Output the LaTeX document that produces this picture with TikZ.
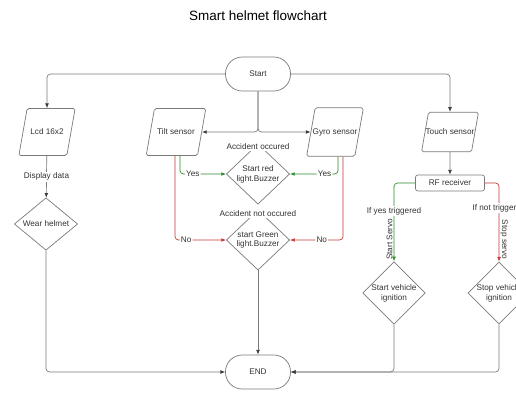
\documentclass[tikz,border=0pt]{standalone}
\usepackage{fontspec}
\setmainfont{Liberation Sans}
\usepackage{xcolor}
\usetikzlibrary{arrows.meta,shapes.geometric}

\definecolor{linegray}{HTML}{7A7A7A}
\definecolor{tipgray}{HTML}{3A3A3A}
\definecolor{yesgreen}{HTML}{2E8B2E}
\definecolor{nored}{HTML}{C43A32}
\definecolor{txtgray}{HTML}{333333}

% fixed text width inside the input boxes
\newcommand{\iotxt}[2][1.15cm]{\makebox[#1]{#2}}

\tikzset{
  base/.style={draw=linegray, line width=0.6pt, text=txtgray, align=center,
    font=\fontsize{7}{8.4}\selectfont, inner sep=1pt},
  term/.style={base, rectangle, rounded corners=0.5cm, minimum width=1.95cm, minimum height=1.02cm},
  io/.style={base, trapezium, trapezium left angle=80, trapezium right angle=100,
    rounded corners=1.5pt, inner xsep=1pt, inner ysep=17.5pt},
  decision/.style={base, diamond, inner sep=0pt, minimum width=1.9cm, minimum height=1.44cm},
  proc/.style={base, rectangle, rounded corners=2pt, minimum width=2.07cm, minimum height=0.48cm},
  conn/.style={draw=linegray, line width=0.6pt, rounded corners=3pt,
    -{Latex[length=4pt,width=3.2pt,color=tipgray]}},
  yesline/.style={conn, draw=yesgreen, -{Latex[length=4pt,width=3.2pt]}},
  noline/.style={conn, draw=nored, -{Latex[length=4pt,width=3.2pt]}},
  lbl/.style={fill=white, text=txtgray, font=\fontsize{7}{8.4}\selectfont, inner sep=1pt}
}

\begin{document}
\begin{tikzpicture}[x=0.03cm, y=-0.03cm]
  \useasboundingbox (0,0) rectangle (516,392);

  % title
  \node[font=\fontsize{11.5}{13}\selectfont] (title) at (258,16) {Smart helmet flowchart};

  % nodes
  \node[term] (start) at (258,74) {Start};
  \node[io] (lcd) at (47,132) {\iotxt[1.12cm]{Lcd 16x2}};
  \node[io] (tilt) at (176,132) {\iotxt[1.22cm]{Tilt sensor}};
  \node[io] (gyro) at (335,132) {\iotxt[1.12cm]{Gyro sensor}};
  \node[io, inner ysep=14.3pt] (touch) at (450,132) {\iotxt[1.22cm]{Touch sensor}};
  \node[decision] (wear) at (46,224) {Wear helmet};
  \node[decision] (redlight) at (258,174) {Start red\\light.Buzzer};
  \node[decision] (greenlight) at (258,240) {start Green\\light.Buzzer};
  \node[proc] (rf) at (450,183) {RF receiver};
  \node[decision, minimum width=1.68cm, minimum height=1.2cm] (startign) at (394,293) {Start vehicle\\ignition};
  \node[decision, minimum width=1.68cm, minimum height=1.2cm] (stopign) at (499,293) {Stop vehicle\\ignition};
  \node[term] (end) at (258,372) {END};

  \node[lbl] (occ) at (258,147) {Accident occured};
  \node[lbl] (notocc) at (258,214) {Accident not occured};

  % connectors
  \draw[conn] (start.west) -| (lcd);
  \draw[conn] (start.east) -| (touch);
  \draw[conn] (start.south) |- (tilt.east);
  \draw[conn] (start.south) |- (gyro.west);
  \draw[conn] (lcd) -- node[lbl] {Display data} (wear);
  \draw[conn] (wear.south) |- (end.west);

  \draw[yesline] ([xshift=0.12cm]tilt.south) |- node[lbl, pos=0.64] {Yes} (redlight.west);
  \draw[noline] ([xshift=-0.03cm]tilt.south) |- node[lbl, pos=0.61] {No} (greenlight.west);
  \draw[yesline] ([xshift=0.09cm]gyro.south) |- node[lbl, pos=0.64] {Yes} (redlight.east);
  \draw[noline] ([xshift=0.24cm]gyro.south) |- node[lbl, pos=0.7] {No} (greenlight.east);
  \draw[conn] (greenlight.south) -- (end.north);

  \draw[conn] (touch) -- (rf);
  \draw[yesline] (rf.west) -| node[lbl, pos=0.68] {If yes triggered}
    node[lbl, pos=0.86, rotate=90, anchor=south, fill=none] {Start Servo} (startign.north);
  \draw[noline] (rf.east) -| node[lbl, pos=0.66] {If not triggered}
    node[lbl, pos=0.86, rotate=-90, anchor=south, fill=none] {Stop servo} (stopign.north);
  \draw[conn] (startign.south) |- (end.east);
  \draw[conn] (stopign.south) |- (end.east);
\end{tikzpicture}
\end{document}
